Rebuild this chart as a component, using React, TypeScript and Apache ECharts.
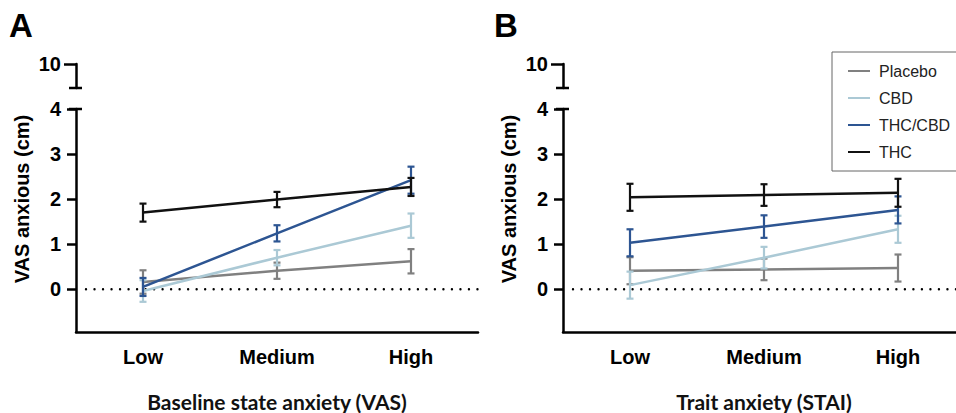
import React, { useEffect, useRef } from "react";
import * as echarts from "echarts";

const categories = ["Low", "Medium", "High"];
const seriesNames = ["Placebo", "CBD", "THC/CBD", "THC"];
const seriesColors = ["#808080", "#abc9d5", "#2d5592", "#111111"];

// Panel A: Baseline state anxiety (VAS)
const placeboA = [0.16, 0.41, 0.62];
const placeboAErr = [0.26, 0.18, 0.27];
const cbdA = [-0.04, 0.7, 1.41];
const cbdAErr = [0.24, 0.17, 0.27];
const thcCbdA = [0.05, 1.24, 2.42];
const thcCbdAErr = [0.2, 0.18, 0.3];
const thcA = [1.7, 1.99, 2.27];
const thcAErr = [0.2, 0.17, 0.2];

// Panel B: Trait anxiety (STAI)
const placeboB = [0.41, 0.44, 0.47];
const placeboBErr = [0.3, 0.24, 0.3];
const cbdB = [0.09, 0.7, 1.33];
const cbdBErr = [0.3, 0.24, 0.3];
const thcCbdB = [1.03, 1.39, 1.76];
const thcCbdBErr = [0.3, 0.25, 0.3];
const thcB = [2.04, 2.09, 2.14];
const thcBErr = [0.3, 0.24, 0.31];

const referenceValue = 0;
const yTicks = [0, 1, 2, 3, 4];
const yBreakTicks = [10];
const xTitleA = "Baseline state anxiety (VAS)";
const xTitleB = "Trait anxiety (STAI)";
const yTitle = "VAS anxious (cm)";

const FONT = "'Liberation Sans', Arial, sans-serif";

export default function App() {
  const ref = useRef<HTMLDivElement>(null);
  useEffect(() => {
    if (!ref.current) return;
    const chart = echarts.init(ref.current, null, { renderer: "svg" });

    const panels = [
      { means: [placeboA, cbdA, thcCbdA, thcA], errs: [placeboAErr, cbdAErr, thcCbdAErr, thcAErr] },
      { means: [placeboB, cbdB, thcCbdB, thcB], errs: [placeboBErr, cbdBErr, thcCbdBErr, thcBErr] },
    ];
    const gridLefts = [76, 563];
    const xTitles = [xTitleA, xTitleB];

    const series: any[] = [];
    panels.forEach((p, pi) => {
      // dotted reference line at y = 0
      series.push({
        type: "custom",
        name: "ref " + pi,
        xAxisIndex: pi,
        yAxisIndex: pi,
        silent: true,
        z: 2,
        data: [[0, referenceValue]],
        encode: { x: 0, y: 1 },
        renderItem: (params: any, api: any) => {
          const cs = params.coordSys;
          const y = api.coord([0, api.value(1)])[1];
          return {
            type: "line",
            shape: { x1: cs.x + 10, y1: y, x2: cs.x + cs.width, y2: y },
            style: { stroke: "#000", lineWidth: 2.4, lineDash: [0.01, 8.5], lineCap: "round" },
          };
        },
      });
      p.means.forEach((m, si) => {
        const color = seriesColors[si];
        const errs = p.errs[si];
        series.push({
          type: "custom",
          name: seriesNames[si] + " err " + pi,
          xAxisIndex: pi,
          yAxisIndex: pi,
          silent: true,
          z: 3 + si,
          data: m.map((v, i) => [i, v - errs[i], v + errs[i]]),
          encode: { x: 0, y: [1, 2] },
          renderItem: (params: any, api: any) => {
            const lo = api.coord([api.value(0), api.value(1)]);
            const hi = api.coord([api.value(0), api.value(2)]);
            const w = 3.5;
            const st = { stroke: color, lineWidth: 2.2 };
            return {
              type: "group",
              children: [
                { type: "line", shape: { x1: lo[0], y1: lo[1], x2: hi[0], y2: hi[1] }, style: st },
                { type: "line", shape: { x1: lo[0] - w, y1: lo[1], x2: lo[0] + w, y2: lo[1] }, style: st },
                { type: "line", shape: { x1: hi[0] - w, y1: hi[1], x2: hi[0] + w, y2: hi[1] }, style: st },
              ],
            };
          },
        });
        series.push({
          type: "line",
          name: seriesNames[si],
          xAxisIndex: pi,
          yAxisIndex: pi,
          data: m,
          symbol: "none",
          z: 3 + si,
          lineStyle: { color, width: 2.5 },
          itemStyle: { color },
        });
      });
    });

    const axisLineStyle = { color: "#000", width: 2.5 };

    const xAxis: any[] = [0, 1].map((pi) => ({
      type: "category",
      gridIndex: pi,
      data: categories,
      boundaryGap: true,
      axisLine: { onZero: false, lineStyle: axisLineStyle },
      axisTick: { alignWithLabel: true, length: 9, lineStyle: axisLineStyle },
      axisLabel: { color: "#000", fontFamily: FONT, fontWeight: "bold", fontSize: 20, margin: 15 },
      name: xTitles[pi],
      nameLocation: "middle",
      nameGap: 59,
      nameTextStyle: { color: "#111", fontFamily: "Lato, 'Open Sans', sans-serif", fontWeight: "bold", fontSize: 21 },
      splitLine: { show: false },
    }));
    [2, 3].forEach((gi) =>
      xAxis.push({ type: "category", gridIndex: gi, data: categories, show: false })
    );

    const yAxis: any[] = [0, 1].map((pi) => ({
      type: "value",
      gridIndex: pi,
      min: -0.95,
      max: 4,
      axisLine: { show: true, onZero: false, lineStyle: axisLineStyle },
      axisTick: { show: true, length: 9, lineStyle: axisLineStyle, customValues: yTicks },
      axisLabel: { color: "#000", fontFamily: FONT, fontWeight: "bold", fontSize: 20, margin: 15, customValues: yTicks },
      splitLine: { show: false },
    }));
    [2, 3].forEach((gi) =>
      yAxis.push({
        type: "value",
        gridIndex: gi,
        min: 9.5,
        max: 10,
        axisLine: { show: true, onZero: false, lineStyle: axisLineStyle },
        axisTick: { show: true, length: 12, lineStyle: axisLineStyle, customValues: yBreakTicks },
        axisLabel: { color: "#000", fontFamily: FONT, fontWeight: "bold", fontSize: 20, margin: 15, customValues: yBreakTicks },
        splitLine: { show: false },
      })
    );

    const graphic: any[] = [];
    gridLefts.forEach((gl, pi) => {
      // axis break caps
      graphic.push({ type: "line", shape: { x1: gl - 7, y1: 88, x2: gl + 6, y2: 88 }, style: { stroke: "#000", lineWidth: 2.5 } });
      graphic.push({ type: "line", shape: { x1: gl - 7, y1: 109, x2: gl + 6, y2: 109 }, style: { stroke: "#000", lineWidth: 2.5 } });
      graphic.push({
        type: "text",
        x: gl - 54,
        y: 199,
        rotation: Math.PI / 2,
        style: {
          text: yTitle,
          fill: "#000",
          font: `bold 20px ${FONT}`,
          textAlign: "center",
          textVerticalAlign: "middle",
        },
      });
      graphic.push({
        type: "text",
        x: pi === 0 ? 9 : 494,
        y: 9,
        style: { text: pi === 0 ? "A" : "B", fill: "#000", font: `bold 33px ${FONT}`, textAlign: "left", textVerticalAlign: "top" },
      });
    });

    const gridBase = { outerBoundsMode: "none", containLabel: false };

    chart.setOption({
      animation: false,
      grid: [
        { ...gridBase, left: 76, top: 109, width: 402, height: 223 },
        { ...gridBase, left: 563, top: 109, width: 402, height: 223 },
        { ...gridBase, left: 76, top: 64, width: 402, height: 24 },
        { ...gridBase, left: 563, top: 64, width: 402, height: 24 },
      ],
      legend: {
        data: seriesNames,
        orient: "vertical",
        left: 832,
        top: 52,
        icon: "rect",
        itemWidth: 22,
        itemHeight: 2,
        itemGap: 11,
        padding: [11, 50, 11, 16],
        borderColor: "#666",
        borderWidth: 1,
        textStyle: { color: "#222", fontFamily: FONT, fontSize: 16, padding: [0, 0, 0, 4] },
      },
      xAxis,
      yAxis,
      series,
      graphic,
    });
    return () => chart.dispose();
  }, []);
  return <div ref={ref} style={{ position: "fixed", left: 0, top: 0, width: 956, height: 413, background: "#fff" }} />;
}
